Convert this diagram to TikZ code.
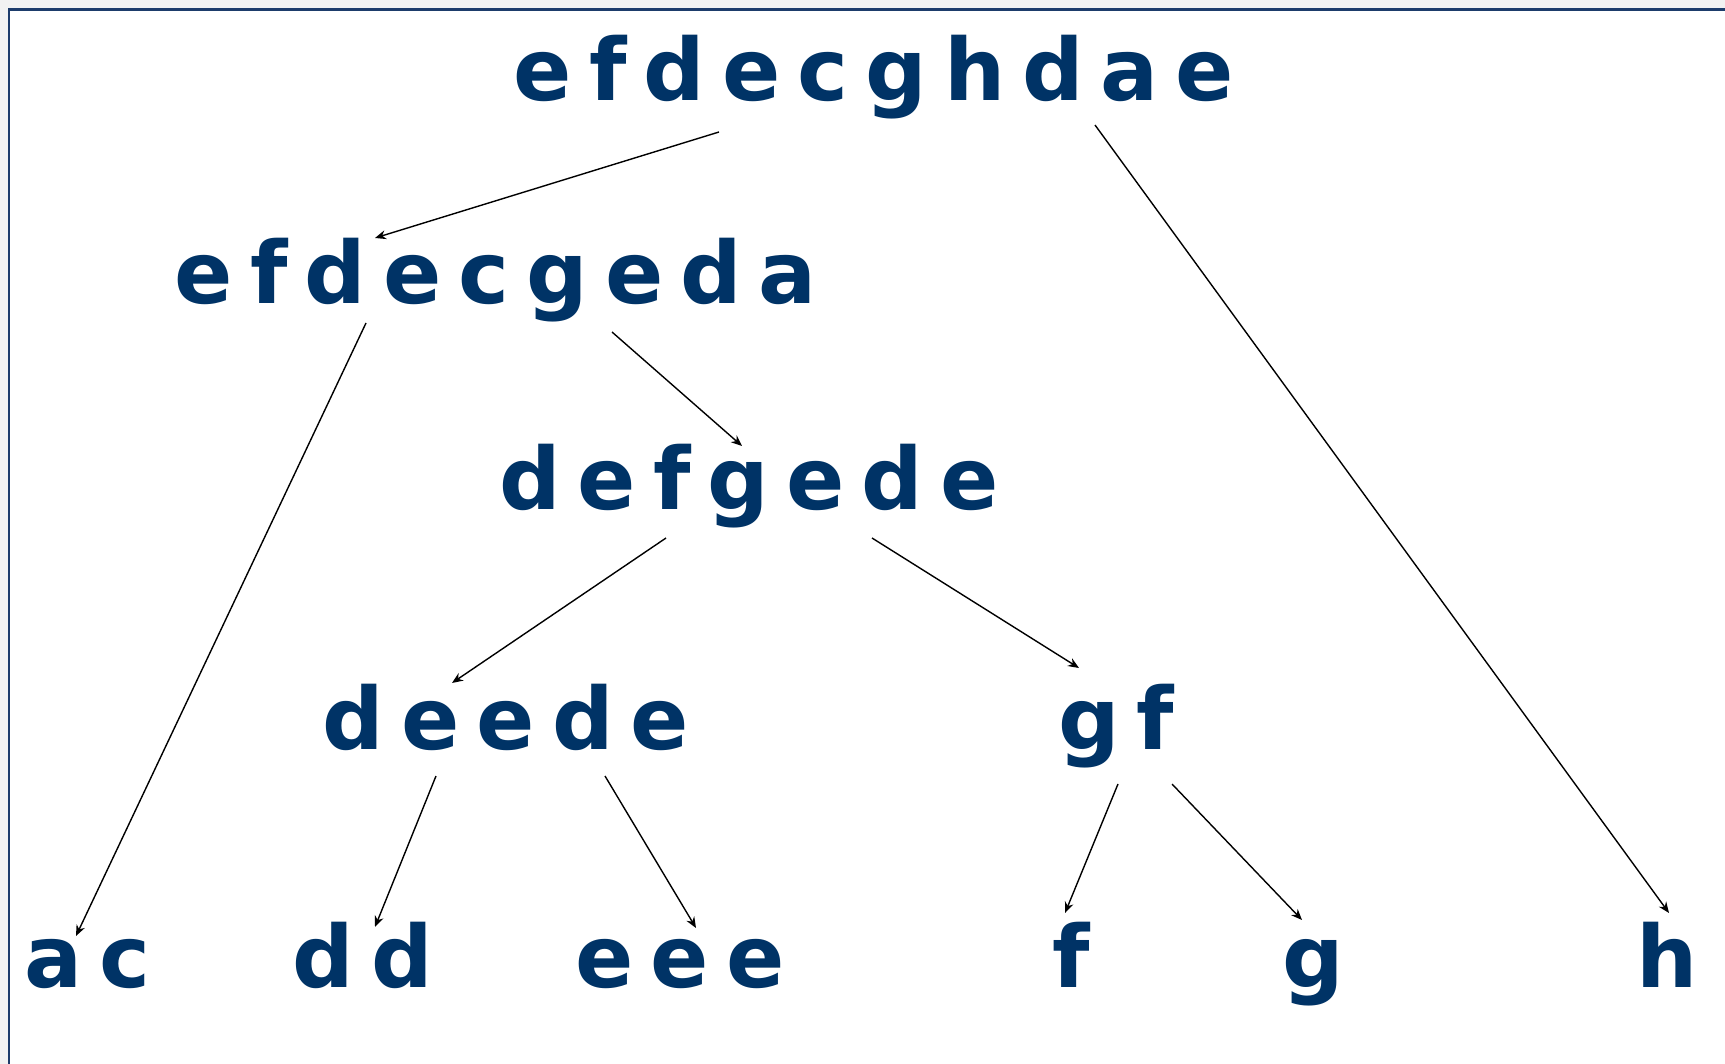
\documentclass[tikz,border=0pt]{standalone}
\usepackage{fontspec}
\setmainfont{DejaVu Sans}
\usetikzlibrary{arrows.meta,calc}
\definecolor{Navy}{HTML}{003366}
\definecolor{FrameBlue}{HTML}{1D3C6B}
\definecolor{Paper}{HTML}{F2F2F2}
\tikzset{
  seq/.style={font={\fontsize{43}{50}\selectfont\bfseries\spaceskip=8.5pt\relax}, text=Navy, anchor=base, inner sep=0pt},
  arr/.style={-{Stealth[length=5.5pt,width=4.5pt]}, line width=0.7pt, draw=black},
}

\begin{document}
\begin{tikzpicture}[x=0.5pt,y=-0.5pt]
     \useasboundingbox (0,0) rectangle (1725,1064);
     % frame
     \fill[Paper] (0,0) rectangle (1725,1064);
     \fill[white] (9,10) rectangle (1725,1064);
     \draw[FrameBlue,line width=1.2pt] (9,1064) -- (9,9.5) -- (1725,9.5);

     % strings
     \node[seq] (efdecghdae) at (874,101) {e f d e c g h d a e};
     \node[seq] (efdecgeda) at (496,304) {e f d e c g e d a};
     \node[seq] (defgede) at (749,509) {d e f g e d e};
     \node[seq] (deede) at (506,749) {d e e d e};
     \node[seq] (gf) at (1116,749) {g f};
     \node[seq] (ac) at (88,987) {a c};
     \node[seq] (dd) at (363,987) {d d};
     \node[seq] (eee) at (680,987) {e e e};
     \node[seq] (f) at (1071,987) {f};
     \node[seq] (g) at (1313,987) {g};
     \node[seq] (h) at (1667,987) {h};

     % splits
     \draw[arr] ([shift={(-155,31)}]efdecghdae.base) -- ([shift={(-121,-66)}]efdecgeda.base);
     \draw[arr] ([shift={(221,24)}]efdecghdae.base) -- ([shift={(2,-74)}]h.base);
     \draw[arr] ([shift={(-130,19)}]efdecgeda.base) -- ([shift={(-12,-51)}]ac.base);
     \draw[arr] ([shift={(116,28)}]efdecgeda.base) -- ([shift={(-7,-63)}]defgede.base);
     \draw[arr] ([shift={(-83,29)}]defgede.base) -- ([shift={(-54,-66)}]deede.base);
     \draw[arr] ([shift={(123,29)}]defgede.base) -- ([shift={(-37,-81)}]gf.base);
     \draw[arr] ([shift={(-70,27)}]deede.base) -- ([shift={(12,-60)}]dd.base);
     \draw[arr] ([shift={(99,27)}]deede.base) -- ([shift={(16,-59)}]eee.base);
     \draw[arr] ([shift={(2,35)}]gf.base) -- ([shift={(-6,-74)}]f.base);
     \draw[arr] ([shift={(56,35)}]gf.base) -- ([shift={(-11,-67)}]g.base);
\end{tikzpicture}
\end{document}
